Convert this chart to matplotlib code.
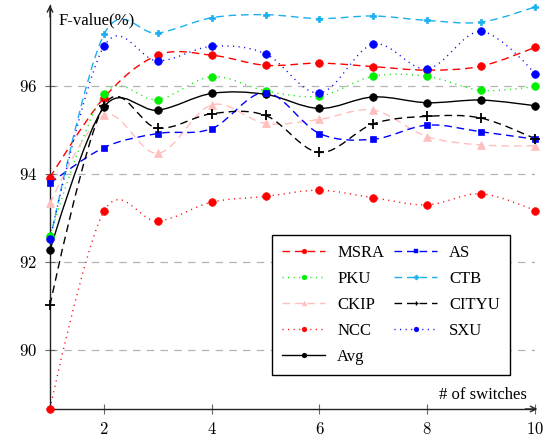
import numpy as np
import matplotlib
matplotlib.use("Agg")
import matplotlib.pyplot as plt
from matplotlib.path import Path
from matplotlib.patches import PathPatch
from matplotlib.lines import Line2D

plt.rcParams['font.family'] = ['Liberation Serif', 'DejaVu Serif']
plt.rcParams['mathtext.fontset'] = 'cm'

switches = [1, 2, 3, 4, 5, 6, 7, 8, 9, 10]
msra = [93.92, 95.73, 96.70, 96.70, 96.47, 96.52, 96.44, 96.36, 96.45, 96.88]
pku = [92.59, 95.81, 95.69, 96.21, 95.89, 95.77, 96.22, 96.22, 95.90, 95.99]
ckip = [93.33, 95.33, 94.47, 95.57, 95.15, 95.24, 95.45, 94.85, 94.66, 94.64]
ncc = [88.67, 93.15, 92.93, 93.36, 93.49, 93.63, 93.46, 93.30, 93.55, 93.17]
avg = [92.27, 95.52, 95.45, 95.83, 95.81, 95.49, 95.75, 95.62, 95.68, 95.55]
as_ = [93.79, 94.60, 94.92, 95.03, 95.85, 94.92, 94.79, 95.11, 94.96, 94.79]
ctb = [92.50, 97.17, 97.20, 97.55, 97.62, 97.53, 97.59, 97.49, 97.45, 97.80]
cityu = [91.02, 95.55, 95.04, 95.37, 95.33, 94.49, 95.14, 95.31, 95.27, 94.80]
sxu = [92.52, 96.90, 96.57, 96.90, 96.73, 95.84, 96.95, 96.39, 97.24, 96.28]

xticks = [2, 4, 6, 8, 10]
yticks = [90, 92, 94, 96]

DASH = (0, (5.5, 3.5))
DOT = (0, (0.8, 3.2))

series = [
    ("MSRA", msra, '#ff0000', DASH, 'o', 5.5),
    ("PKU", pku, '#00ee00', DOT, 'o', 5.5),
    ("CKIP", ckip, '#ffbfbf', DASH, '^', 5.5),
    ("NCC", ncc, '#ff0000', DOT, 'o', 5.5),
    ("Avg", avg, '#000000', '-', 'o', 5.5),
    ("AS", as_, '#0000ff', DASH, 's', 5.0),
    ("CTB", ctb, '#1ab0f0', DASH, 'P', 4.3),
    ("CITYU", cityu, '#000000', DASH, '+', 7.0),
    ("SXU", sxu, '#0000ff', DOT, 'o', 5.5),
]


def smooth_path(x, y, f=0.17):
    pts = np.column_stack([x, y]).astype(float)
    n = len(pts)
    verts = [pts[0]]
    codes = [Path.MOVETO]
    for i in range(n - 1):
        p0, p1 = pts[i], pts[i + 1]
        if i == 0:
            c1 = p0
        else:
            c1 = p0 + f * (pts[i + 1] - pts[i - 1])
        if i + 1 == n - 1:
            c2 = p1
        else:
            c2 = p1 - f * (pts[i + 2] - pts[i])
        verts += [c1, c2, p1]
        codes += [Path.CURVE4] * 3
    return Path(verts, codes)


fig = plt.figure(figsize=(5.47, 4.40), dpi=100)
ax = fig.add_axes([50 / 547, 31 / 440, 485 / 547, 404 / 440])
ax.set_xlim(1, 10)
ax.set_ylim(88.66, 97.84)

for yv in yticks:
    ax.plot([1, 10], [yv, yv], color='#b4b4b4', lw=0.9, ls=(0, (6, 5)), zorder=1)

handles = []
for name, vals, col, ls, mk, ms in series:
    p = smooth_path(switches, vals)
    ax.add_patch(PathPatch(p, fill=False, edgecolor=col, lw=1.0, linestyle=ls, zorder=2))
    ax.plot(switches, vals, linestyle='none', marker=mk, color=col, ms=ms,
            mew=1.3 if mk == '+' else 0.5, clip_on=False, zorder=3)
    handles.append(Line2D([], [], color=col, lw=1.0, linestyle=ls, marker=mk,
                          ms=3.5, mew=1.0 if mk == '+' else 0.3))

for s in ['top', 'right']:
    ax.spines[s].set_visible(False)
for s in ['left', 'bottom']:
    ax.spines[s].set_linewidth(1.0)
    ax.spines[s].set_color('#222222')

ax.annotate('', xy=(1.005, 0), xytext=(0.98, 0), xycoords='axes fraction',
            arrowprops=dict(arrowstyle='->', color='#222222', lw=1.0,
                            shrinkA=0, shrinkB=0, mutation_scale=10))
ax.annotate('', xy=(0, 1.0), xytext=(0, 0.97), xycoords='axes fraction',
            arrowprops=dict(arrowstyle='->', color='#222222', lw=1.0,
                            shrinkA=0, shrinkB=0, mutation_scale=10))

ax.set_xticks(xticks)
ax.set_xticklabels([f'${v}$' for v in xticks])
ax.set_yticks(yticks)
ax.set_yticklabels([f'${v}$' for v in yticks])
ax.tick_params(axis='both', direction='inout', length=7, width=0.8,
               color='#666666', labelsize=12)
ax.tick_params(axis='x', pad=6)
ax.tick_params(axis='y', pad=6)

ax.text(0.017, 0.963, 'F-value(%)', transform=ax.transAxes, ha='left',
        va='center', fontsize=12)
ax.text(0.983, 0.035, '# of switches', transform=ax.transAxes, ha='right',
        va='center', fontsize=12)

leg = ax.legend(handles, [s[0] for s in series], ncol=2,
                loc='upper left', bbox_to_anchor=(0.458, 0.431),
                fontsize=12, frameon=True, fancybox=False,
                edgecolor='#000000', framealpha=1, handlelength=2.6,
                labelspacing=0.6, borderaxespad=0, handletextpad=0.7,
                columnspacing=0.6, borderpad=0.6)
leg.get_frame().set_linewidth(1.0)

fig.savefig('out.png', dpi=100)
